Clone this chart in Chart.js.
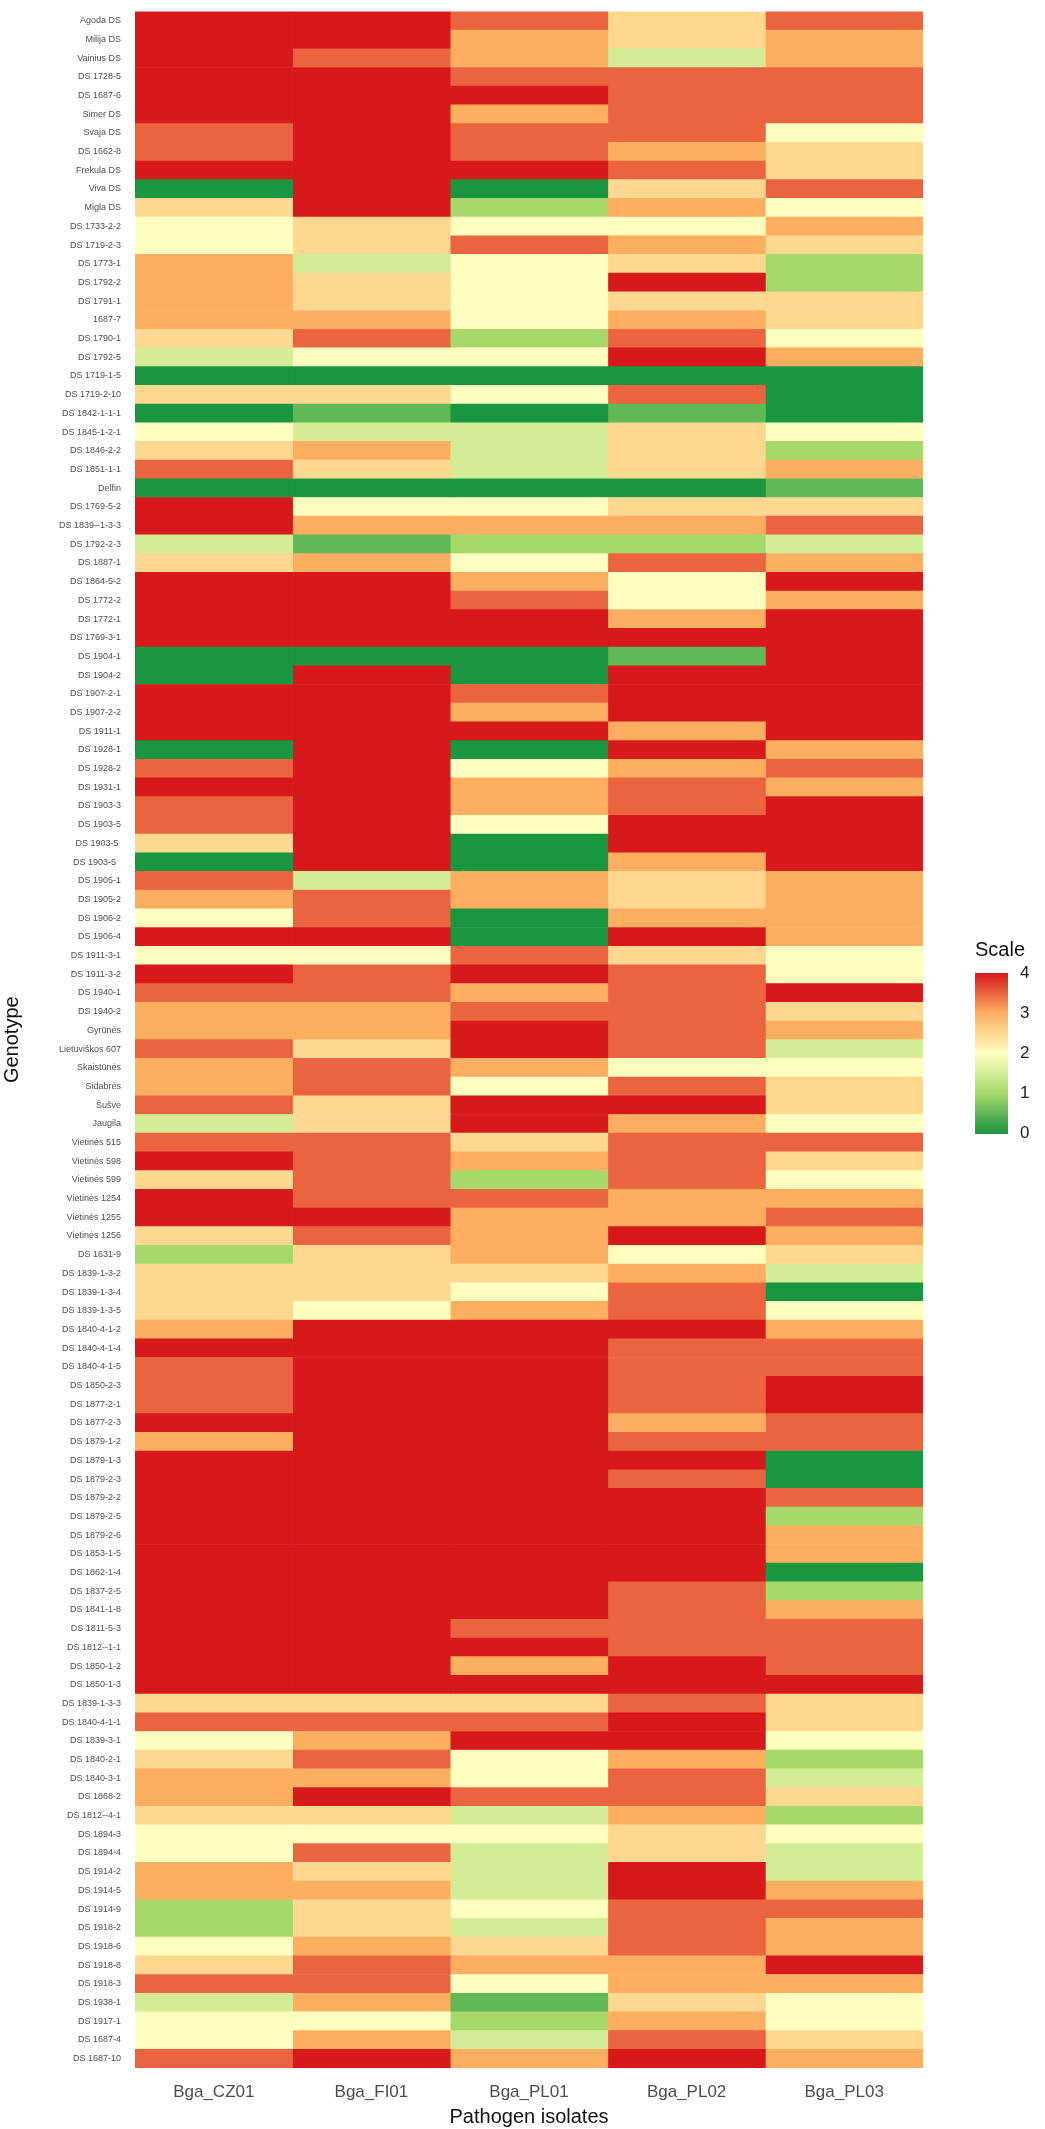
<!DOCTYPE html>
<html>
<head>
<meta charset="utf-8">
<script src="https://cdn.jsdelivr.net/npm/chart.js@4.4.1/dist/chart.umd.min.js"></script>
<style>
  body { margin: 0; background: #fff; font-family: "Liberation Sans", Arial, sans-serif; }
  #wrap { position: relative; width: 1045px; height: 2129px; }
  #legend { position: absolute; left: 975px; top: 938px; }
  #legend .title { font-size: 20px; color: #111; margin-bottom: 8px; }
  #bar { position: absolute; left: 0; top: 35px; width: 33px; height: 161px;
         background: linear-gradient(to top, #1a9641, #a6d96a 25%, #ffffbf 50%, #fdae61 75%, #d7191c); }
  .lt { position: absolute; left: 45px; font-size: 17px; color: #222; }
</style>
</head>
<body>
<div id="wrap">
  <canvas id="c" width="1045" height="2129"></canvas>
  <div id="legend">
    <div class="title">Scale</div>
    <div id="bar"></div>
    <div class="lt" style="top:25px">4</div>
    <div class="lt" style="top:65px">3</div>
    <div class="lt" style="top:105px">2</div>
    <div class="lt" style="top:145px">1</div>
    <div class="lt" style="top:185px">0</div>
  </div>
</div>
<script>
const isolates = ['Bga_CZ01', 'Bga_FI01', 'Bga_PL01', 'Bga_PL02', 'Bga_PL03'];

const genotypes = ['Agoda DS','Milija DS','Vainius DS','DS 1728-5','DS 1687-6','Simer DS','Svaja DS','DS 1662-8','Frekula DS','Viva DS',
  'Migla DS','DS 1733-2-2','DS 1719-2-3','DS 1773-1','DS 1792-2','DS 1791-1','1687-7','DS 1790-1','DS 1792-5','DS 1719-1-5',
  'DS 1719-2-10','DS 1842-1-1-1','DS 1845-1-2-1','DS 1846-2-2','DS 1851-1-1','Delfin','DS 1769-5-2','DS 1839--1-3-3','DS 1792-2-3','DS 1887-1',
  'DS 1864-5-2','DS 1772-2','DS 1772-1','DS 1769-3-1','DS 1904-1','DS 1904-2','DS 1907-2-1','DS 1907-2-2','DS 1911-1','DS 1928-1',
  'DS 1928-2','DS 1931-1','DS 1903-3','DS 1903-5','DS 1903-5 ','DS 1903-5  ','DS 1905-1','DS 1905-2','DS 1906-2','DS 1906-4',
  'DS 1911-3-1','DS 1911-3-2','DS 1940-1','DS 1940-2','Gyrūnės','Lietuviškos 607','Skaistūnės','Sidabrės','Šušvė','Jaugila',
  'Vietinės 515','Vietinės 598','Vietinės 599','Vietinės 1254','Vietinės 1255','Vietinės 1256','DS 1631-9','DS 1839-1-3-2','DS 1839-1-3-4','DS 1839-1-3-5',
  'DS 1840-4-1-2','DS 1840-4-1-4','DS 1840-4-1-5','DS 1850-2-3','DS 1877-2-1','DS 1877-2-3','DS 1879-1-2','DS 1879-1-3','DS 1879-2-3','DS 1879-2-2',
  'DS 1879-2-5','DS 1879-2-6','DS 1853-1-5','DS 1862-1-4','DS 1837-2-5','DS 1841-1-8','DS 1811-5-3','DS 1812--1-1','DS 1850-1-2','DS 1850-1-3',
  'DS 1839-1-3-3','DS 1840-4-1-1','DS 1839-3-1','DS 1840-2-1','DS 1840-3-1','DS 1868-2','DS 1812--4-1','DS 1894-3','DS 1894-4','DS 1914-2',
  'DS 1914-5','DS 1914-9','DS 1918-2','DS 1918-6','DS 1918-8','DS 1918-3','DS 1938-1','DS 1917-1','DS 1687-4','DS 1687-10'];

const scoreCZ01 = [4,4,4,4,4,4,3.5,3.5,4,0, 2.5,2,2,3,3,3,3,2.5,1.5,0, 2.5,0,2,2.5,3.5,0,4,4,1.5,2.5,
  4,4,4,4,0,0,4,4,4,0, 3.5,4,3.5,3.5,2.5,0,3.5,3,2,4, 2,4,3.5,3,3,3.5,3,3,3.5,1.5,
  3.5,4,2.5,4,4,2.5,1,2.5,2.5,2.5, 3,4,3.5,3.5,3.5,4,3,4,4,4, 4,4,4,4,4,4,4,4,4,4,
  2.5,3.5,2,2.5,3,3,2.5,2,2,3, 3,1,1,2,2.5,3.5,1.5,2,2,3.5];
const scoreFI01 = [4,4,3.5,4,4,4,4,4,4,4, 4,2.5,2.5,1.5,2.5,2.5,3,3.5,2,0, 2.5,0.5,1.5,3,2.5,0,2,3,0.5,3,
  4,4,4,4,0,4,4,4,4,4, 4,4,4,4,4,4,1.5,3.5,3.5,4, 2,3.5,3.5,3,3,2.5,3.5,3.5,2.5,2.5,
  3.5,3.5,3.5,3.5,4,3.5,2.5,2.5,2.5,2, 4,4,4,4,4,4,4,4,4,4, 4,4,4,4,4,4,4,4,4,4,
  2.5,3.5,3,3.5,3,4,2.5,2,3.5,2.5, 3,2.5,2.5,3,3.5,3.5,3,2,3,4];
const scorePL01 = [3.5,3,3,3.5,4,3,3.5,3.5,4,0, 1,2,3.5,2,2,2,2,1,2,0, 2,0,1.5,1.5,1.5,0,2,3,1,2,
  3,3.5,4,4,0,0,3.5,3,4,0, 2,3,3,2,0,0,3,3,0,0, 3.5,4,3,3.5,4,4,3,2,4,4,
  2.5,3,1,3.5,3,3,3,2.5,2,3, 4,4,4,4,4,4,4,4,4,4, 4,4,4,4,4,4,3.5,4,3,4,
  2.5,3.5,4,2,2,3.5,1.5,2,1.5,1.5, 1.5,2,1.5,2.5,3,2,0.5,1,1.5,3];
const scorePL02 = [2.5,2.5,1.5,3.5,3.5,3.5,3.5,3,3.5,2.5, 3,2,3,2.5,4,2.5,3,3.5,4,0, 3.5,0.5,2.5,2.5,2.5,0,2.5,3,1,3.5,
  2,2,3,4,0.5,4,4,4,3,4, 3,3.5,3.5,4,4,3,2.5,2.5,3,4, 2.5,3.5,3.5,3.5,3.5,3.5,2,3.5,4,3,
  3.5,3.5,3.5,3,3,4,2,3,3.5,3.5, 4,3.5,3.5,3.5,3.5,3,3.5,4,3.5,4, 4,4,4,4,3.5,3.5,3.5,3.5,4,4,
  3.5,4,4,3,3.5,3.5,3,2.5,2.5,4, 4,3.5,3.5,3.5,3,3,2.5,3,3.5,4];
const scorePL03 = [3.5,3,3,3.5,3.5,3.5,2,2.5,2.5,3.5, 2,3,2.5,1,1,2.5,2.5,2,3,0, 0,0,2,1,3,0.5,2.5,3.5,1.5,3,
  4,3,4,4,4,4,4,4,4,3, 3.5,3,4,4,4,4,3,3,3,3, 2,2,4,2.5,3,1.5,2,2.5,2.5,2,
  3.5,2.5,2,3,3.5,3,2.5,1.5,0,2, 3,3.5,3.5,4,4,3.5,3.5,0,0,3.5, 1,3,3,0,1,3,3.5,3.5,3.5,4,
  2.5,2.5,2,1,1.5,2.5,1,2,1.5,1.5, 3,3.5,3,3,4,3,2,2,2.5,3];

const scores = [scoreCZ01, scoreFI01, scorePL01, scorePL02, scorePL03];

const stops = [[0,[26,150,65]],[1,[166,217,106]],[2,[255,255,191]],[3,[253,174,97]],[4,[215,25,28]]];
function colorFor(v) {
  for (let i = 0; i < stops.length - 1; i++) {
    const [a, ca] = stops[i], [b, cb] = stops[i + 1];
    if (v <= b) {
      const t = (v - a) / (b - a);
      const c = ca.map((x, k) => Math.round(x + (cb[k] - x) * t));
      return 'rgb(' + c.join(',') + ')';
    }
  }
  return 'rgb(215,25,28)';
}

new Chart(document.getElementById('c'), {
  type: 'bar',
  data: {
    labels: genotypes,
    datasets: isolates.map((name, i) => ({
      label: name,
      data: genotypes.map(() => 1),
      backgroundColor: scores[i].map(colorFor),
      borderWidth: 0,
      barPercentage: 1,
      categoryPercentage: 1
    }))
  },
  options: {
    indexAxis: 'y',
    responsive: false,
    animation: false,
    layout: { padding: { top: 11, right: 122, left: 0, bottom: 0 } },
    plugins: { legend: { display: false }, tooltip: { enabled: false } },
    scales: {
      x: {
        stacked: true, min: 0, max: 5,
        grid: { display: false }, border: { display: false },
        afterBuildTicks: s => { s.ticks = isolates.map((_, i) => ({ value: i + 0.5 })); },
        afterFit: s => { s.height = 61; },
        ticks: { callback: (v, i) => isolates[i], color: '#4d4d4d', font: { size: 17 }, padding: 6, maxRotation: 0 },
        title: { display: true, text: 'Pathogen isolates', color: '#111', font: { size: 20 }, padding: 0 }
      },
      y: {
        stacked: true,
        grid: { display: false }, border: { display: false },
        afterFit: s => { s.width = 135; },
        ticks: { color: '#4d4d4d', font: { size: 9 }, autoSkip: false, padding: 6 },
        title: { display: true, text: 'Genotype', color: '#111', font: { size: 20 }, padding: 0 }
      }
    }
  }
});
</script>
</body>
</html>
